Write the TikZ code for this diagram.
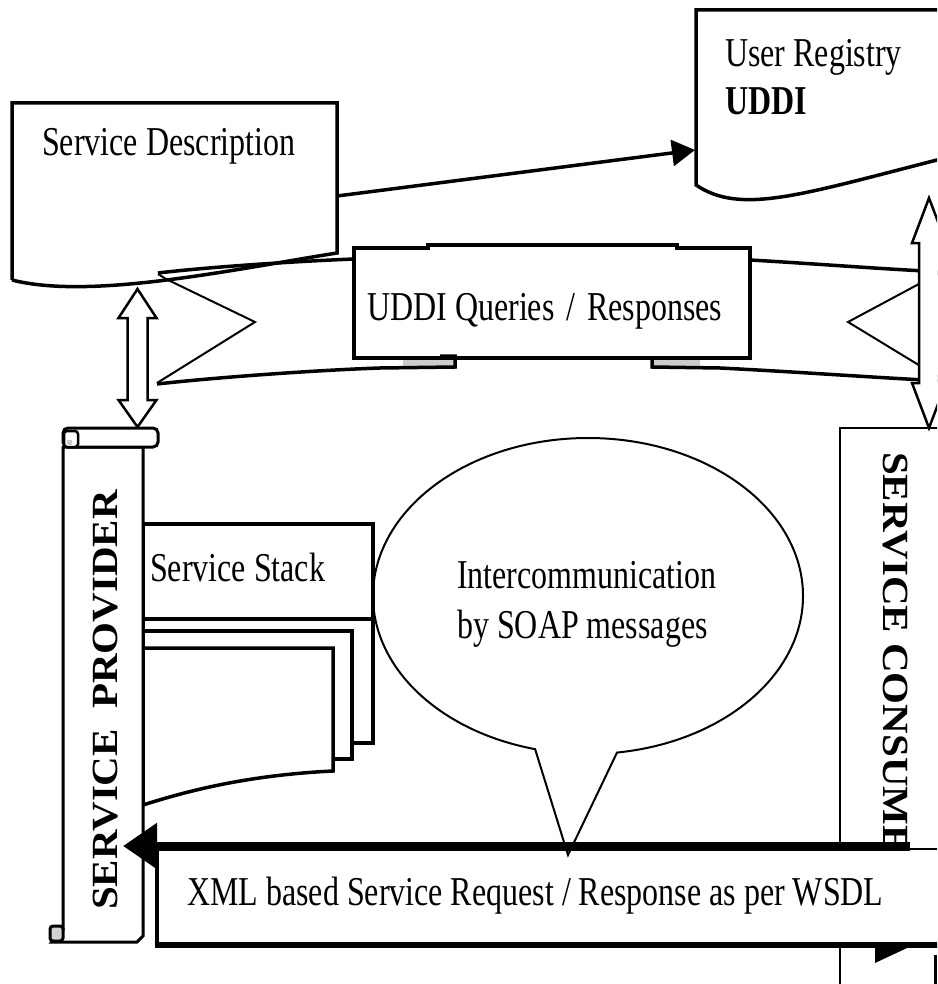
\documentclass[tikz,border=0pt]{standalone}
\usepackage{fontspec}
\setmainfont{Liberation Serif}
\usepackage{graphicx}
\usetikzlibrary{arrows.meta,shapes.callouts,calc}
\newcommand{\sqz}[1]{\scalebox{0.78}[1]{#1}}
\newcommand{\vsqz}[1]{\scalebox{1}[0.9]{#1}}
\begin{document}
\begin{tikzpicture}[x=1pt,y=-1pt,
  lbl/.style={font=\fontsize{41}{45}\selectfont, inner sep=0pt, anchor=base west},
  blbl/.style={font=\fontsize{41}{45}\selectfont\bfseries, inner sep=0pt},
  edgeline/.style={line width=3.5pt, line join=miter},
  thinline/.style={line width=2pt},
  hollow/.style={line width=2.5pt, fill=white, line join=miter},
  foldfill/.style={fill=gray!40}
]
\useasboundingbox (0,0) rectangle (937,984);
\clip (0,0) rectangle (937,984);

% ---------- Service Description (document shape)
\draw[edgeline] (12,280) -- (12,103) -- (337,103) -- (337,253)
   .. controls (230,270) and (90,300) .. (12,280);
\node[lbl] (sdtext) at (42,156) {\sqz{Service Description}};
\coordinate (sdR) at (337,196);

% ---------- User Registry (document shape)
\draw[edgeline] (945,158) -- (937,160) .. controls (800,195) and (740,215) .. (696,185)
   -- (696,10) -- (945,10);
\node[lbl] (urtext) at (725,67) {\sqz{User Registry}};
\node[blbl, anchor=base west] (uddi) at (725,115) {\sqz{UDDI}};
\coordinate (urL) at (695,150);
\draw[edgeline, -{Triangle[length=23pt,width=26pt]}] (sdR) -- (urL);

% ---------- UDDI Queries / Responses ribbon
\fill[foldfill] (403,359) rectangle (454,366);
\fill[foldfill] (654,359) rectangle (700,366);
\draw[edgeline] (354,358) -- (354,248) -- (428,248) -- (428,245) -- (677,245)
   -- (677,248) -- (750,248) -- (750,358) -- cycle;
\node[lbl] (uqtext) at (367,320) {\sqz{UDDI Queries\hspace{5pt} / \hspace{5pt}Responses}};
% left wing
\draw[edgeline] (354,259) .. controls (280,262) and (200,268) .. (158,273);
\draw[thinline] (158,274) -- (166,279) -- (255,322) -- (157,383);
\draw[edgeline] (157,384) .. controls (220,377) and (320,370) .. (380,368)
   -- (455,367) -- (455,356) -- (440,356);
% right wing
\draw[edgeline] (750,260) .. controls (820,264) and (880,269) .. (945,272);
\draw[thinline] (945,270) -- (848,322) -- (945,381);
\draw[edgeline] (652,356) -- (652,367) -- (720,368)
   .. controls (800,372) and (880,378) .. (945,381);

% ---------- double arrow Service Description <-> Service Provider
\coordinate (a1) at (137.5,289);
\coordinate (a2) at (137.5,427);
\draw[hollow] (a1) -- ($(a1)+(19,29)$) -- ($(a1)+(10,29)$) -- ($(a2)+(10,-27)$)
   -- ($(a2)+(19,-27)$) -- (a2) -- ($(a2)+(-19,-27)$) -- ($(a2)+(-10,-27)$)
   -- ($(a1)+(-10,29)$) -- ($(a1)+(-19,29)$) -- cycle;

% ---------- Service Consumer
\draw[line width=2.5pt] (840,990) -- (840,428) -- (960,428);
\begin{scope}
  \clip (830,420) rectangle (937,841);
  \node[blbl, rotate=-90, anchor=west] (sctext) at (895.5,452) {\vsqz{SERVICE CONSUMER}};
\end{scope}

% ---------- double arrow User Registry <-> Service Consumer
\coordinate (b1) at (929,198);
\coordinate (b2) at (929,428);
\draw[hollow] (b1) -- ($(b1)+(17,45)$) -- ($(b1)+(10,45)$) -- ($(b2)+(10,-45)$)
   -- ($(b2)+(17,-45)$) -- (b2) -- ($(b2)+(-17,-45)$) -- ($(b2)+(-10,-45)$)
   -- ($(b1)+(-10,45)$) -- ($(b1)+(-17,45)$) -- cycle;

% ---------- Service Stack (multi-document)
\draw[edgeline, fill=white] (143,524) -- (373,524) -- (373,743) -- (143,743) -- cycle;
\draw[edgeline] (143,619) -- (373,619);
\draw[edgeline, fill=white] (143,631) -- (352,631) -- (352,759) -- (143,759) -- cycle;
\draw[edgeline, fill=white] (143,648) -- (333,648) -- (333,771)
   .. controls (250,775) and (190,790) .. (143,805) -- cycle;
\node[lbl] (sstext) at (150,581) {\sqz{Service Stack}};

% ---------- Service Provider (vertical scroll)
\draw[line width=3pt, fill=white, line join=miter] (63,447) -- (143,447) -- (143,936) -- (137,942)
   -- (52,942) -- (63,930) -- cycle;
\draw[line width=3pt, fill=gray!35, rounded corners=3pt] (50,926) rectangle (63,941);
\draw[line width=3pt, fill=white, rounded corners=5pt] (63,428) rectangle (158,447);
\draw[line width=2.5pt, fill=white, rounded corners=3pt] (64,431) rectangle (78,447);
\fill[gray!40] (67,440) rectangle (72,445);
\node[blbl, rotate=90, anchor=center] (sptext) at (105.5,700) {\vsqz{SERVICE\hspace{10pt} PROVIDER}};

% ---------- XML request / response box and arrow
\fill[white] (157,849) rectangle (960,945);
\draw[line width=2pt] (157,849) -- (960,849);
\draw[line width=3.5pt] (157,849) -- (157,947);
\draw[line width=6pt] (155,945) -- (960,945);
\node[lbl] (xmltext) at (187,905) {\sqz{XML based Service Request / Response as per WSDL}};
\coordinate (xmlS) at (910,846);
\coordinate (spIn) at (123,846);
\draw[line width=9pt, -{Triangle[length=34pt,width=44pt]}] (xmlS) -- (spIn);
\fill (875,948) -- (907,948) -- (875,963) -- cycle;
\draw[line width=3pt] (935,955) -- (935,990);

% ---------- SOAP callout
\node[ellipse callout, draw, line width=2pt, minimum width=430pt, minimum height=316pt,
      inner sep=0pt, callout absolute pointer={(568,855)}, callout pointer arc=22]
      (bubble) at (588,596) {};
\node[lbl] (ic1) at (457,588) {\sqz{Intercommunication}};
\node[lbl] (ic2) at (457,638) {\sqz{by SOAP messages}};
\end{tikzpicture}
\end{document}
